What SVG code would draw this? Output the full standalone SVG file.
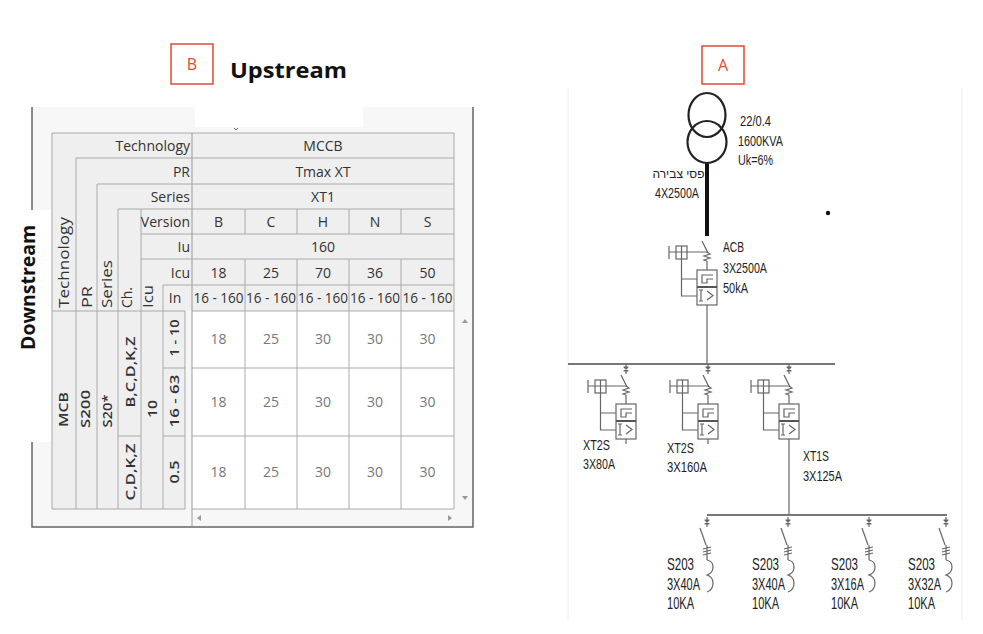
<svg xmlns="http://www.w3.org/2000/svg" width="983" height="634" viewBox="0 0 983 634">
<style>
.g{stroke:#aaa;stroke-width:1;fill:none}
.hl{font-family:"Open Sans","DejaVu Sans",sans-serif;font-size:14px;fill:#333}
.r{text-anchor:end}
.m{text-anchor:middle}
.v{font-family:"Open Sans","DejaVu Sans",sans-serif;font-size:14px;fill:#777;text-anchor:middle}
.b{font-family:"Open Sans","DejaVu Sans",sans-serif;font-size:13px;font-weight:600;fill:#333;text-anchor:middle}
.w{stroke:#666;stroke-width:1.2;fill:none}
.bus{stroke:#777;stroke-width:2;fill:none}
.lb{font-family:"Liberation Sans",Arial,sans-serif;font-size:15px;fill:#222}
.lm{font-family:"Liberation Sans",Arial,sans-serif;font-size:16.5px;fill:#222}
.tag{fill:#fff;stroke:#e04a33;stroke-width:1.5}
.tagt{font-family:"Open Sans","DejaVu Sans",sans-serif;font-size:16px;fill:#e04a33;text-anchor:middle}
.arr{fill:#999}
</style>
<defs>
<g id="iso"><path class="w" d="M0 0V10M-2.5 3H2.5M-2.5 7H2.5M-2 3L2 7M2 3L-2 7"/></g>
<g id="brk">
<path class="w" d="M-5 11L1 23"/>
<path class="w" d="M0 22l3 2l-6 2l6 2l-6 2l3 1"/>
<path class="w" d="M-38 22H0M-38 16V29"/>
<rect class="w" x="-31" y="16" width="11" height="13"/>
<path class="w" d="M-25.5 16V29"/>
<path class="w" d="M-25.5 29V66H-10M-25.5 49H-10"/>
<path class="w" d="M0 31V40"/>
<rect class="w" x="-10" y="40" width="20" height="35" fill="#fff"/>
<path d="M-10 57H10" stroke="#555" stroke-width="2"/>
<path class="w" d="M6 45H-5V53H0V49H6"/>
<path class="w" d="M-6 60V71M-8 60H-4M-8 71H-4M0 61L6 65.5L0 70"/>
</g>
<g id="mcb">
<use href="#iso" y="2"/>
<path class="w" d="M-7 13L-1 30"/>
<path class="w" d="M0 30V45M-4 34L4 32M-4 37L4 35M-4 40L4 38"/>
<path class="w" d="M0 45Q6 46 6 52Q6 58 0 60Q6 62 6 68Q6 75 0 77"/>
</g>
</defs>
<rect width="983" height="634" fill="#fff"/>

<g id="table">
<rect x="32" y="107" width="441" height="420" fill="#f7f7f7"/>
<rect x="195" y="104" width="168" height="23" fill="#fff"/>
<path d="M234 128L236 130L238 128" stroke="#666" stroke-width="1" fill="none"/>
<path d="M32 107V527H473V107" stroke="#666" stroke-width="1.5" fill="none"/>
<rect x="52" y="133" width="402" height="178" fill="#efefef"/>
<rect x="52" y="311" width="133" height="198" fill="#efefef"/>
<rect x="192" y="311" width="262" height="198" fill="#fff"/>
<path class="g" d="M52 133H454M76 158H454M97 184H454M118 209H454M141 234H454M141 259H454M163 285H454M52 311H185M192 311H454M163 368H185M192 368H454M118 436H141M163 436H185M192 436H454M52 509H185M192 509H454"/>
<path class="g" d="M52 133V509M76 158V509M97 184V509M118 209V509M141 209V509M163 285V509M185 311V509M454 133V509M245 209V234M245 259V509M297 209V234M297 259V509M349 209V234M349 259V509M401 209V234M401 259V509"/>
<path d="M192 133V527" stroke="#999" stroke-width="1"/>
<polygon class="arr" points="462,323 468,323 465,319"/>
<polygon class="arr" points="462,496 468,496 465,500"/>
<polygon class="arr" points="201,515 201,521 197,518"/>
<polygon class="arr" points="448,515 448,521 452,518"/>
<g id="header-labels">
<text class="hl r" x="190" y="151">Technology</text>
<text class="hl r" x="190" y="177">PR</text>
<text class="hl r" x="190" y="202">Series</text>
<text class="hl r" x="190" y="227">Version</text>
<text class="hl r" x="190" y="252">Iu</text>
<text class="hl r" x="190" y="278">Icu</text>
<text class="hl m" x="175" y="303">In</text>
<text class="hl" transform="translate(69,308) rotate(-90)" textLength="91" lengthAdjust="spacingAndGlyphs">Technology</text>
<text class="hl" transform="translate(92,308) rotate(-90)" textLength="22" lengthAdjust="spacingAndGlyphs">PR</text>
<text class="hl" transform="translate(112,308) rotate(-90)" textLength="48" lengthAdjust="spacingAndGlyphs">Series</text>
<text class="hl" transform="translate(132,308) rotate(-90)" textLength="21" lengthAdjust="spacingAndGlyphs">Ch.</text>
<text class="hl" transform="translate(153,308) rotate(-90)" textLength="23" lengthAdjust="spacingAndGlyphs">Icu</text>
</g>
<g id="header-values">
<text class="hl m" x="323" y="151">MCCB</text>
<text class="hl m" x="323" y="177">Tmax XT</text>
<text class="hl m" x="323" y="202">XT1</text>
<text class="hl m" x="218.5" y="227">B</text>
<text class="hl m" x="271" y="227">C</text>
<text class="hl m" x="323" y="227">H</text>
<text class="hl m" x="375" y="227">N</text>
<text class="hl m" x="427.5" y="227">S</text>
<text class="hl m" x="323" y="252">160</text>
<text class="hl m" x="218.5" y="278">18</text>
<text class="hl m" x="271" y="278">25</text>
<text class="hl m" x="323" y="278">70</text>
<text class="hl m" x="375" y="278">36</text>
<text class="hl m" x="427.5" y="278">50</text>
<text class="hl m" x="218.5" y="303" textLength="50" lengthAdjust="spacingAndGlyphs">16 - 160</text>
<text class="hl m" x="271" y="303" textLength="50" lengthAdjust="spacingAndGlyphs">16 - 160</text>
<text class="hl m" x="323" y="303" textLength="50" lengthAdjust="spacingAndGlyphs">16 - 160</text>
<text class="hl m" x="375" y="303" textLength="50" lengthAdjust="spacingAndGlyphs">16 - 160</text>
<text class="hl m" x="427.5" y="303" textLength="50" lengthAdjust="spacingAndGlyphs">16 - 160</text>
</g>
<g id="body-labels">
<text class="b" transform="translate(68,409.5) rotate(-90)" textLength="35" lengthAdjust="spacingAndGlyphs">MCB</text>
<text class="b" transform="translate(90,409) rotate(-90)" textLength="38" lengthAdjust="spacingAndGlyphs">S200</text>
<text class="b" transform="translate(112,411) rotate(-90)" textLength="33" lengthAdjust="spacingAndGlyphs">S20*</text>
<text class="b" transform="translate(135,372) rotate(-90)" textLength="71" lengthAdjust="spacingAndGlyphs">B,C,D,K,Z</text>
<text class="b" transform="translate(135,472) rotate(-90)" textLength="57" lengthAdjust="spacingAndGlyphs">C,D,K,Z</text>
<text class="b" transform="translate(157,409) rotate(-90)" textLength="18" lengthAdjust="spacingAndGlyphs">10</text>
<text class="b" transform="translate(179,338) rotate(-90)" textLength="37" lengthAdjust="spacingAndGlyphs">1 - 10</text>
<text class="b" transform="translate(179,401) rotate(-90)" textLength="53" lengthAdjust="spacingAndGlyphs">16 - 63</text>
<text class="b" transform="translate(179,472) rotate(-90)" textLength="23" lengthAdjust="spacingAndGlyphs">0.5</text>
</g>
<g id="body-values">
<text class="v" x="218.5" y="344">18</text><text class="v" x="271" y="344">25</text><text class="v" x="323" y="344">30</text><text class="v" x="375" y="344">30</text><text class="v" x="427.5" y="344">30</text>
<text class="v" x="218.5" y="407">18</text><text class="v" x="271" y="407">25</text><text class="v" x="323" y="407">30</text><text class="v" x="375" y="407">30</text><text class="v" x="427.5" y="407">30</text>
<text class="v" x="218.5" y="477">18</text><text class="v" x="271" y="477">25</text><text class="v" x="323" y="477">30</text><text class="v" x="375" y="477">30</text><text class="v" x="427.5" y="477">30</text>
</g>
</g>

<g id="downstream">
<rect x="0" y="210" width="51" height="232" fill="#fff"/>
<text transform="translate(35,287.5) rotate(-90)" font-family="'Open Sans','DejaVu Sans',sans-serif" font-size="20" font-weight="700" fill="#111" text-anchor="middle" textLength="125" lengthAdjust="spacingAndGlyphs">Downstream</text>
</g>
<g id="upstream">
<text x="230" y="78" font-family="'Open Sans','DejaVu Sans',sans-serif" font-size="22" font-weight="700" fill="#111" textLength="117" lengthAdjust="spacingAndGlyphs">Upstream</text>
</g>
<g id="tag-B"><rect class="tag" x="171" y="44" width="42" height="40"/><text class="tagt" x="192" y="70">B</text></g>
<g id="tag-A"><rect class="tag" x="702" y="46" width="42" height="38"/><text class="tagt" x="723" y="71">A</text></g>

<g id="sld-frame"><path d="M568 88V620M962 88V620" stroke="#ececec" stroke-width="1"/></g>

<g id="connectors">
<path d="M707 163V236" stroke="#111" stroke-width="4"/>
<path class="w" d="M707 305V364"/>
<path class="bus" d="M568 364H835"/>
<path class="w" d="M626 439V444M708 439V444M789 439V515"/>
<path class="bus" d="M707 515H947"/>
</g>

<g id="transformer">
<ellipse cx="707" cy="115" rx="18.5" ry="22" fill="none" stroke="#222" stroke-width="2.2"/>
<ellipse cx="707" cy="142" rx="19.5" ry="21" fill="none" stroke="#222" stroke-width="2.2"/>
<text class="lb" x="740" y="126" textLength="31" lengthAdjust="spacingAndGlyphs">22/0.4</text>
<text class="lb" x="738" y="146" textLength="45" lengthAdjust="spacingAndGlyphs">1600KVA</text>
<text class="lb" x="738" y="165" textLength="35" lengthAdjust="spacingAndGlyphs">Uk=6%</text>
</g>
<g id="busbar-label">
<text x="678.5" y="178" font-family="'Liberation Sans','DejaVu Sans',sans-serif" font-size="12" fill="#222" text-anchor="middle">פסי צבירה</text>
<text class="lb" x="655" y="198" textLength="44" lengthAdjust="spacingAndGlyphs">4X2500A</text>
</g>
<circle id="dot" cx="828" cy="213" r="2.2" fill="#111"/>

<g id="acb">
<use href="#brk" x="707" y="230"/>
<text class="lb" x="723" y="252" textLength="21" lengthAdjust="spacingAndGlyphs">ACB</text>
<text class="lb" x="723" y="273" textLength="44" lengthAdjust="spacingAndGlyphs">3X2500A</text>
<text class="lb" x="723" y="293" textLength="25" lengthAdjust="spacingAndGlyphs">50kA</text>
</g>
<g id="xt2s-80">
<use href="#iso" x="626" y="364"/><use href="#brk" x="626" y="364"/>
<text class="lb" x="583" y="450" textLength="27" lengthAdjust="spacingAndGlyphs">XT2S</text>
<text class="lb" x="583" y="469" textLength="32" lengthAdjust="spacingAndGlyphs">3X80A</text>
</g>
<g id="xt2s-160">
<use href="#iso" x="708" y="364"/><use href="#brk" x="708" y="364"/>
<text class="lb" x="667" y="453" textLength="27" lengthAdjust="spacingAndGlyphs">XT2S</text>
<text class="lb" x="667" y="472" textLength="40" lengthAdjust="spacingAndGlyphs">3X160A</text>
</g>
<g id="xt1s-125">
<use href="#iso" x="789" y="364"/><use href="#brk" x="789" y="364"/>
<text class="lb" x="803" y="461" textLength="26" lengthAdjust="spacingAndGlyphs">XT1S</text>
<text class="lb" x="803" y="481" textLength="39" lengthAdjust="spacingAndGlyphs">3X125A</text>
</g>
<g id="mcb-1">
<use href="#mcb" x="707" y="515"/>
<text class="lm" x="667" y="570" textLength="27" lengthAdjust="spacingAndGlyphs">S203</text>
<text class="lm" x="667" y="590" textLength="33" lengthAdjust="spacingAndGlyphs">3X40A</text>
<text class="lm" x="667" y="609" textLength="27" lengthAdjust="spacingAndGlyphs">10KA</text>
</g>
<g id="mcb-2">
<use href="#mcb" x="788" y="515"/>
<text class="lm" x="752" y="570" textLength="27" lengthAdjust="spacingAndGlyphs">S203</text>
<text class="lm" x="752" y="590" textLength="33" lengthAdjust="spacingAndGlyphs">3X40A</text>
<text class="lm" x="752" y="609" textLength="27" lengthAdjust="spacingAndGlyphs">10KA</text>
</g>
<g id="mcb-3">
<use href="#mcb" x="869" y="515"/>
<text class="lm" x="831" y="570" textLength="27" lengthAdjust="spacingAndGlyphs">S203</text>
<text class="lm" x="831" y="590" textLength="33" lengthAdjust="spacingAndGlyphs">3X16A</text>
<text class="lm" x="831" y="609" textLength="27" lengthAdjust="spacingAndGlyphs">10KA</text>
</g>
<g id="mcb-4">
<use href="#mcb" x="946" y="515"/>
<text class="lm" x="908" y="570" textLength="27" lengthAdjust="spacingAndGlyphs">S203</text>
<text class="lm" x="908" y="590" textLength="33" lengthAdjust="spacingAndGlyphs">3X32A</text>
<text class="lm" x="908" y="609" textLength="27" lengthAdjust="spacingAndGlyphs">10KA</text>
</g>
</svg>
